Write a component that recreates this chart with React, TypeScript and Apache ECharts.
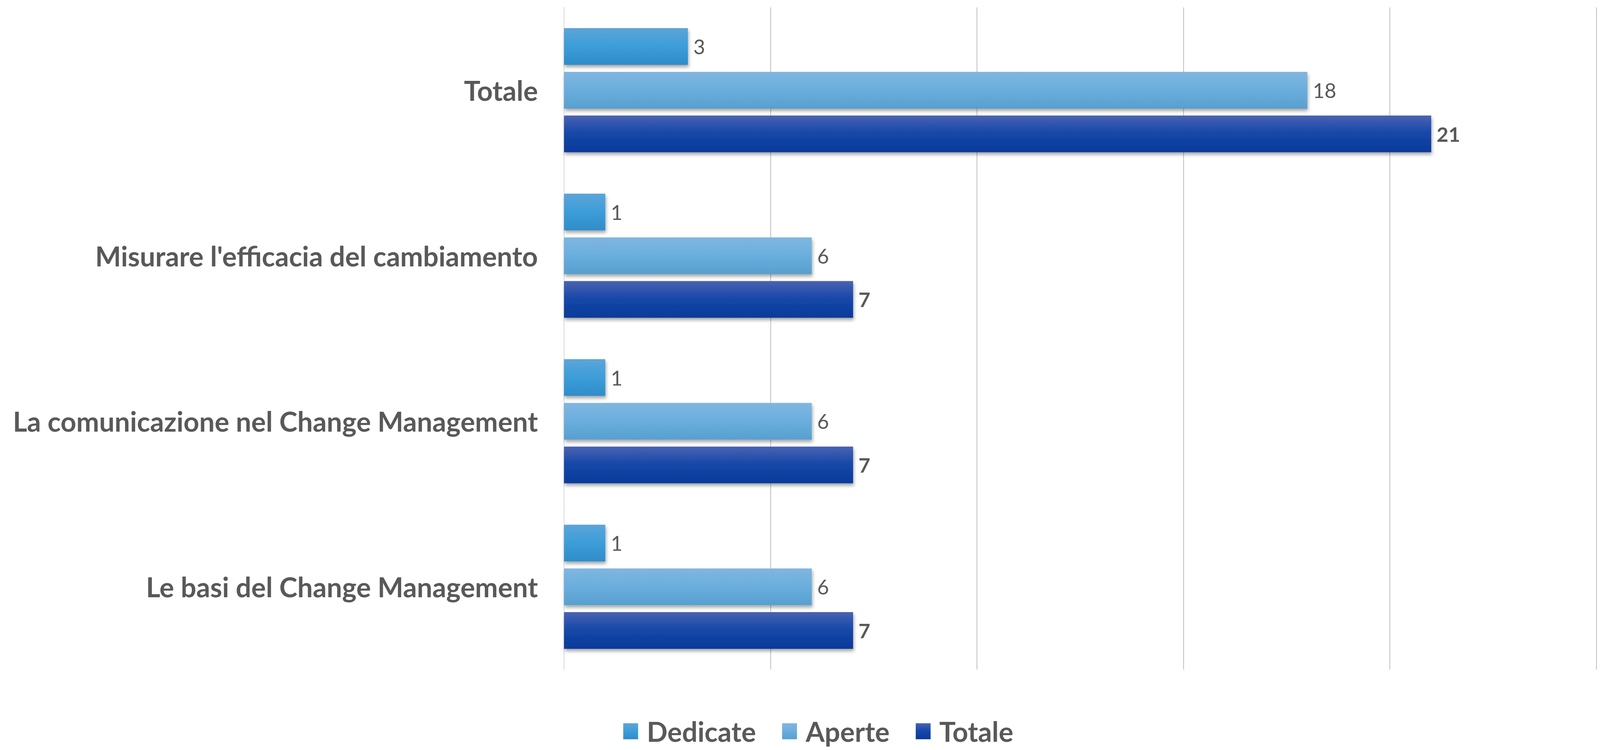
import React, { useEffect, useRef } from "react";
import * as echarts from "echarts";

const categories = [
  "Totale",
  "Misurare l'efficacia del cambiamento",
  "La comunicazione nel Change Management",
  "Le basi del Change Management",
];
const seriesNames = ["Dedicate", "Aperte", "Totale"];
const dedicate = [3, 1, 1, 1];
const aperte = [18, 6, 6, 6];
const totale = [21, 7, 7, 7];
const xTicks = [0, 5, 10, 15, 20, 25];

const grad = (top: string, mid: string, bottom: string) =>
  new echarts.graphic.LinearGradient(0, 0, 0, 1, [
    { offset: 0, color: top },
    { offset: 0.5, color: mid },
    { offset: 1, color: bottom },
  ]);

export default function App() {
  const ref = useRef<HTMLDivElement>(null);
  useEffect(() => {
    const el = ref.current;
    if (!el) return;
    const W = el.clientWidth || 4414;
    const H = el.clientHeight || 1920;
    const sx = W / 4414;
    const sy = H / 1920;
    const chart = echarts.init(el, undefined, { renderer: "svg" });
    const shadow = {
      shadowColor: "rgba(0,0,0,0.35)",
      shadowBlur: 8,
      shadowOffsetY: 6,
      shadowOffsetX: 2,
    };
    const colors = [
      grad("#5BA5D8", "#3C9DD9", "#2F8CC8"),
      grad("#80B6E0", "#6AAEDD", "#579FCF"),
      grad("#4A62B2", "#1447A8", "#0A3A99"),
    ];
    const data = [dedicate, aperte, totale];
    const bigFont = Math.round(75 * sx);
    chart.setOption({
      animation: false,
      backgroundColor: "#ffffff",
      textStyle: { fontFamily: "Lato" },
      grid: {
        left: 1556 * sx,
        right: W - 4404 * sx,
        top: 19 * sy,
        bottom: 206 * sy,
        containLabel: false,
      },
      legend: {
        data: seriesNames,
        left: 1714 * sx,
        top: 1832 * sy,
        icon: "rect",
        itemWidth: 41 * sx,
        itemHeight: 41 * sy,
        itemGap: 72 * sx,
        textStyle: {
          fontFamily: "Lato",
          fontSize: bigFont,
          fontWeight: "bold",
          color: "#595959",
          padding: [0, 0, 0, 24 * sx - 5],
        },
      },
      xAxis: {
        type: "value",
        min: xTicks[0],
        max: xTicks[xTicks.length - 1],
        interval: xTicks[1] - xTicks[0],
        axisLabel: { show: false },
        axisLine: { show: false },
        axisTick: { show: false },
        splitLine: { lineStyle: { color: "#BFBFBF", width: 2 } },
      },
      yAxis: {
        type: "category",
        inverse: true,
        data: categories,
        axisTick: { show: false },
        axisLine: { lineStyle: { color: "#D9D9D9", width: 2 } },
        axisLabel: {
          fontFamily: "Lato",
          fontSize: bigFont,
          fontWeight: "bold",
          color: "#595959",
          margin: 72 * sx,
        },
      },
      series: seriesNames.map((name, i) => ({
        name,
        type: "bar",
        data: data[i],
        barWidth: 94 * sy,
        barGap: "19%",
        itemStyle: { color: colors[i], ...shadow },
        label: {
          show: true,
          position: "right",
          distance: 15 * sx,
          fontFamily: "Lato",
          fontSize: Math.round(56 * sx),
          fontWeight: i === 2 ? "bold" : "normal",
          color: "#595959",
        },
      })),
    });
    return () => chart.dispose();
  }, []);
  return (
    <div
      ref={ref}
      style={{ position: "fixed", left: 0, top: 0, width: "100vw", height: "100vh" }}
    />
  );
}
